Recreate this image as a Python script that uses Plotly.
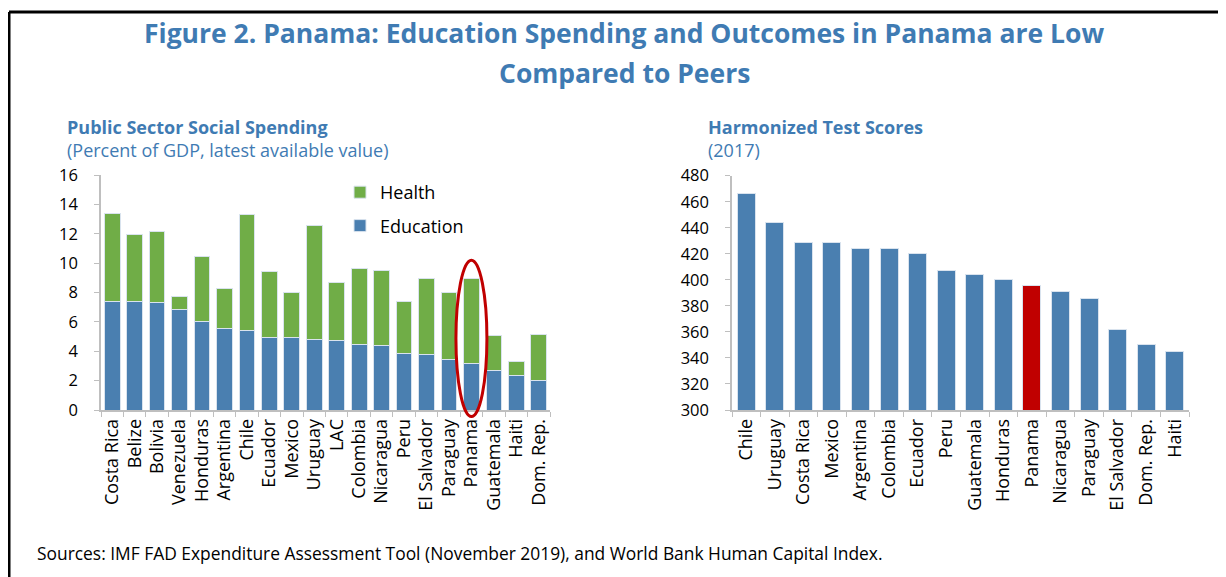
import plotly.graph_objects as go

# Left panel: public sector social spending (% of GDP)
spend_countries = ['Costa Rica', 'Belize', 'Bolivia', 'Venezuela', 'Honduras', 'Argentina',
                   'Chile', 'Ecuador', 'Mexico', 'Uruguay', 'LAC', 'Colombia', 'Nicaragua',
                   'Peru', 'El Salvador', 'Paraguay', 'Panama', 'Guatemala', 'Haiti', 'Dom. Rep.']
education = [7.38, 7.38, 7.29, 6.83, 6.01, 5.52, 5.40, 4.93, 4.93, 4.79, 4.70, 4.47, 4.36,
             3.88, 3.77, 3.43, 3.15, 2.68, 2.34, 2.00]
total_spend = [13.39, 11.98, 12.12, 7.76, 10.46, 8.24, 13.30, 9.40, 7.99, 12.57, 8.69, 9.65,
               9.53, 7.40, 8.94, 7.99, 8.92, 5.06, 3.29, 5.17]
health = [round(t - e, 2) for t, e in zip(total_spend, education)]

# Right panel: harmonized test scores (2017)
score_countries = ['Chile', 'Uruguay', 'Costa Rica', 'Mexico', 'Argentina', 'Colombia', 'Ecuador',
                   'Peru', 'Guatemala', 'Honduras', 'Panama', 'Nicaragua', 'Paraguay',
                   'El Salvador', 'Dom. Rep.', 'Haiti']
scores = [466, 444, 429, 429, 424, 424, 420, 407, 404, 400, 396, 391, 386, 362, 350, 345]

BLUE = '#4a7fb0'
GREEN = '#70ad47'
RED = '#c00000'
TITLE_BLUE = '#3f7bb3'
AXIS_GREY = '#bfbfbf'
FONT = 'Open Sans'

W, H = 1226, 577
OFF = 8  # the page body adds an 8px margin; positions below are screen pixels
SPEND_MAX = 16


def px(x):
    return (x - OFF) / W


def py(y):
    return 1 - (y - OFF) / H


fig = go.Figure()

fig.add_trace(go.Bar(x=spend_countries, y=education, name='Education', marker_color=BLUE,
                     marker_line=dict(color='#d9e3ee', width=1), legendgroup='edu',
                     legendrank=2, xaxis='x', yaxis='y'))
fig.add_trace(go.Bar(x=spend_countries, y=health, name='Health', marker_color=GREEN,
                     marker_line=dict(color='#d9e3ee', width=1), legendgroup='health',
                     legendrank=1, xaxis='x', yaxis='y'))

bar_colors = [RED if c == 'Panama' else BLUE for c in score_countries]
fig.add_trace(go.Bar(x=score_countries, y=scores, marker_color=bar_colors,
                     marker_line=dict(color='#d9e3ee', width=1), showlegend=False,
                     xaxis='x2', yaxis='y2'))

axis_common = dict(showgrid=False, zeroline=False, showline=True, linecolor=AXIS_GREY,
                   linewidth=1.5, ticks='outside', tickcolor=AXIS_GREY, ticklen=5,
                   automargin=False)
x_font = dict(family=FONT, size=18, color='black')
y_font = dict(family=FONT, size=16.5, color='black')

fig.update_layout(
    width=W, height=H,
    margin=dict(l=0, r=0, t=0, b=0, pad=0, autoexpand=False),
    paper_bgcolor='white', plot_bgcolor='white',
    barmode='stack', bargap=0.3,
    font=dict(family=FONT, color='black'),
    xaxis=dict(domain=[px(101), px(550)], anchor='y', tickangle=-90, tickson='boundaries',
               tickfont=x_font, **axis_common),
    yaxis=dict(domain=[py(410), py(175)], anchor='x', range=[0, SPEND_MAX], dtick=2,
               ticklabelstandoff=13, tickfont=y_font, **axis_common),
    xaxis2=dict(domain=[px(732), px(1189)], anchor='y2', tickangle=-90, tickson='boundaries',
                tickfont=x_font, **axis_common),
    yaxis2=dict(domain=[py(410), py(175.7)], anchor='x2', range=[300, 480], dtick=20,
                ticklabelstandoff=13, tickfont=y_font, **axis_common),
    legend=dict(x=px(340), y=py(174), xanchor='left', yanchor='top',
                traceorder='grouped', tracegroupgap=7,
                font=dict(family=FONT, size=18, color='black'),
                bgcolor='rgba(0,0,0,0)'),
)

fig.update_traces(selector=dict(xaxis='x2'), width=0.63)


def note(text, x, y, size, color, xanchor='left'):
    fig.add_annotation(text=text, x=px(x), y=py(y), xref='paper', yref='paper',
                       xanchor=xanchor, yanchor='middle', showarrow=False,
                       font=dict(family=FONT, size=size, color=color))


# figure title
note('<b>Figure 2. Panama: Education Spending and Outcomes in Panama are Low</b>', 624, 33, 26.5,
     TITLE_BLUE, 'center')
note('<b>Compared to Peers</b>', 624, 73, 26.5, TITLE_BLUE, 'center')

# panel titles
note('<b>Public Sector Social Spending</b>', 65, 127, 18, TITLE_BLUE)
note('(Percent of GDP, latest available value)', 65, 150, 18, TITLE_BLUE)
note('<b>Harmonized Test Scores</b>', 706, 127, 18, TITLE_BLUE)
note('(2017)', 706, 150, 18, TITLE_BLUE)

note('Sources: IMF FAD Expenditure Assessment Tool (November 2019), and World Bank Human Capital Index.',
     35, 553, 17.4, 'black')

# Panama highlight ellipse (y in domain units so it can dip just below the axis)
panama_idx = spend_countries.index('Panama')
fig.add_shape(type='circle', xref='x', yref='y domain', x0=panama_idx - 0.69, x1=panama_idx + 0.69,
              y0=-0.45 / SPEND_MAX, y1=10.2 / SPEND_MAX, line=dict(color=RED, width=3))

# frame lines (top and left)
fig.add_shape(type='line', xref='paper', yref='paper', x0=px(9), x1=1, y0=py(12), y1=py(12),
              line=dict(color='black', width=3))
fig.add_shape(type='line', xref='paper', yref='paper', x0=px(9), x1=px(9), y0=py(12), y1=0,
              line=dict(color='black', width=3))

fig.write_html('out.html')
